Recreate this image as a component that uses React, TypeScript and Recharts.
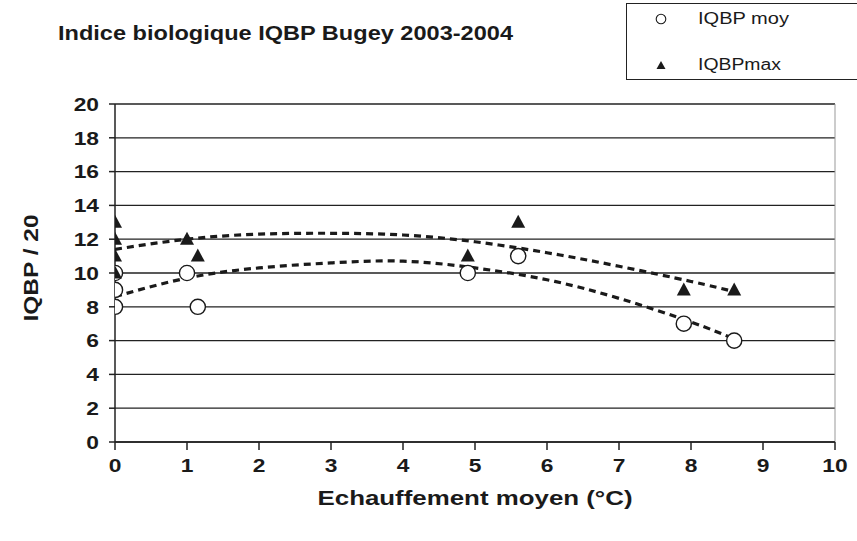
import React from "react";
import {
  ComposedChart,
  Scatter,
  Line,
  XAxis,
  YAxis,
  CartesianGrid,
  ReferenceLine,
  Legend,
} from "recharts";

// ---- Data ----
const moyX = [0, 0, 0, 1, 1.15, 4.9, 5.6, 7.9, 8.6];
const moyY = [8, 9, 10, 10, 8, 10, 11, 7, 6];
const maxX = [0, 0, 0, 0, 1, 1.15, 4.9, 5.6, 7.9, 8.6];
const maxY = [13, 12, 11, 10, 12, 11, 11, 13, 9, 9];
const trendX = [0, 1, 2, 3, 4, 5, 6, 7, 8, 8.6];
const trendMaxY = [11.4, 12.0, 12.3, 12.35, 12.25, 11.85, 11.2, 10.4, 9.5, 8.9];
const trendMoyY = [8.6, 9.7, 10.3, 10.6, 10.7, 10.3, 9.6, 8.5, 7.1, 6.1];
const xTicks = [0, 1, 2, 3, 4, 5, 6, 7, 8, 9, 10];
const yTicks = [0, 2, 4, 6, 8, 10, 12, 14, 16, 18, 20];

const TITLE = "Indice biologique IQBP Bugey 2003-2004";
const X_LABEL = "Echauffement moyen (°C)";
const Y_LABEL = "IQBP / 20";
const SERIES_MOY = "IQBP moy";
const SERIES_MAX = "IQBPmax";

const moyData = moyX.map((x, i) => ({ x, y: moyY[i] }));
const maxData = maxX.map((x, i) => ({ x, y: maxY[i] }));
const trendMaxData = trendX.map((x, i) => ({ x, y: trendMaxY[i] }));
const trendMoyData = trendX.map((x, i) => ({ x, y: trendMoyY[i] }));

const FONT = "'Liberation Sans', Arial, Helvetica, sans-serif";
const INK = "#1a1a1a";

const XTick = (props: any) => {
  const { x, y, payload } = props;
  return (
    <text
      transform={`translate(${x},${y}) scale(1.2,1)`}
      x={0}
      y={0}
      dy={20}
      textAnchor="middle"
      fontSize={19}
      fontWeight="bold"
      fontFamily={FONT}
      fill={INK}
    >
      {payload.value}
    </text>
  );
};

const YTick = (props: any) => {
  const { x, y, payload } = props;
  return (
    <text
      transform={`translate(${x - 8},${y}) scale(1.2,1)`}
      x={0}
      y={0}
      dy={6.8}
      textAnchor="end"
      fontSize={19}
      fontWeight="bold"
      fontFamily={FONT}
      fill={INK}
    >
      {payload.value}
    </text>
  );
};

const CircleShape = (props: any) => {
  const { cx, cy } = props;
  return <circle cx={cx} cy={cy} r={7.6} fill="#fff" stroke={INK} strokeWidth={1.4} />;
};

const TriangleShape = (props: any) => {
  const { cx, cy } = props;
  return (
    <polygon
      points={`${cx},${cy - 7.5} ${cx - 7},${cy + 5.5} ${cx + 7},${cy + 5.5}`}
      fill={INK}
    />
  );
};

const LegendBox = () => (
  <div
    style={{
      width: 240,
      height: 77,
      border: "1.3px solid #222",
      boxSizing: "border-box",
      background: "#fff",
    }}
  >
    <svg width={240} height={75} style={{ display: "block" }}>
      <circle cx={34} cy={15} r={4.8} fill="#fff" stroke={INK} strokeWidth={1.1} />
      <text
        x={71}
        y={20}
        fontSize={16}
        fontFamily={FONT}
        fill={INK}
        textLength={91}
        lengthAdjust="spacingAndGlyphs"
      >
        {SERIES_MOY}
      </text>
      <polygon points={`34,57 29.5,65 38.5,65`} fill={INK} />
      <text
        x={71}
        y={66}
        fontSize={16}
        fontFamily={FONT}
        fill={INK}
        textLength={83}
        lengthAdjust="spacingAndGlyphs"
      >
        {SERIES_MAX}
      </text>
    </svg>
  </div>
);

export default function App() {
  return (
    <div
      style={{
        position: "absolute",
        left: 0,
        top: 0,
        width: 857,
        height: 541,
        overflow: "hidden",
        background: "#fff",
      }}
    >
      <ComposedChart
        width={857}
        height={541}
        margin={{ top: 104, right: 22, bottom: 59, left: 55 }}
      >
        <CartesianGrid horizontal vertical={false} stroke="#222" strokeWidth={1.3} />
        <XAxis
          type="number"
          dataKey="x"
          domain={[0, 10]}
          ticks={xTicks}
          allowDataOverflow
          height={40}
          tickSize={8}
          tick={<XTick />}
          axisLine={{ stroke: "#222", strokeWidth: 1.5 }}
          tickLine={{ stroke: "#222", strokeWidth: 1.5 }}
        />
        <YAxis
          type="number"
          dataKey="y"
          domain={[0, 20]}
          ticks={yTicks}
          allowDataOverflow
          width={60}
          tickSize={6}
          tick={<YTick />}
          axisLine={{ stroke: "#222", strokeWidth: 1.5 }}
          tickLine={{ stroke: "#222", strokeWidth: 1.5 }}
        />
        <ReferenceLine x={10} stroke="#999" strokeWidth={1} />
        <Scatter
          name={SERIES_MOY}
          data={moyData}
          shape={<CircleShape />}
          isAnimationActive={false}
        />
        <Scatter
          name={SERIES_MAX}
          data={maxData}
          shape={<TriangleShape />}
          isAnimationActive={false}
        />
        <Line
          data={trendMaxData}
          dataKey="y"
          type="natural"
          stroke={INK}
          strokeWidth={3.2}
          strokeDasharray="7 5"
          dot={false}
          activeDot={false}
          legendType="none"
          isAnimationActive={false}
        />
        <Line
          data={trendMoyData}
          dataKey="y"
          type="natural"
          stroke={INK}
          strokeWidth={3.2}
          strokeDasharray="7 5"
          dot={false}
          activeDot={false}
          legendType="none"
          isAnimationActive={false}
        />
        <Legend
          layout="horizontal"
          verticalAlign="middle"
          align="center"
          content={() => <LegendBox />}
          wrapperStyle={{ position: "absolute", left: 626, top: 3, width: 240, height: 77 }}
        />
      </ComposedChart>
      <svg
        width={857}
        height={541}
        style={{ position: "absolute", left: 0, top: 0, pointerEvents: "none" }}
      >
        <text
          x={58}
          y={40}
          fontSize={21}
          fontWeight="bold"
          fontFamily={FONT}
          fill={INK}
          textLength={455}
          lengthAdjust="spacingAndGlyphs"
        >
          {TITLE}
        </text>
        <text
          x={475}
          y={505}
          textAnchor="middle"
          fontSize={21}
          fontWeight="bold"
          fontFamily={FONT}
          fill={INK}
          textLength={315}
          lengthAdjust="spacingAndGlyphs"
        >
          {X_LABEL}
        </text>
        <text
          transform="translate(38,268) rotate(-90)"
          x={0}
          y={0}
          textAnchor="middle"
          fontSize={21}
          fontWeight="bold"
          fontFamily={FONT}
          fill={INK}
          textLength={107}
          lengthAdjust="spacingAndGlyphs"
        >
          {Y_LABEL}
        </text>
      </svg>
    </div>
  );
}
